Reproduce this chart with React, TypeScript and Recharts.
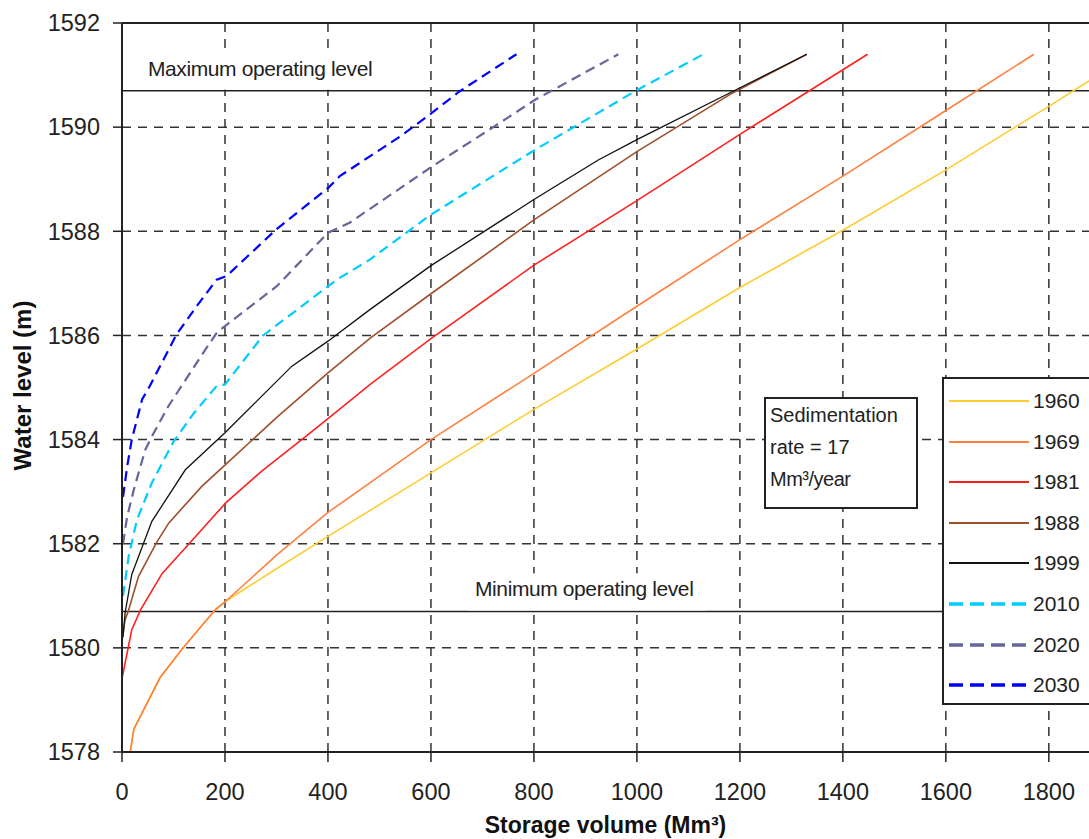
import React from 'react';
import {
    LineChart,
    Line,
    XAxis,
    YAxis,
    CartesianGrid,
    ReferenceLine
} from 'recharts';

// storage volume (Mm3) / water level (m) pairs
const curve1960: [number, number][] = [
    [16, 1578], [23, 1578.44], [74, 1579.43], [116, 1579.97], [181, 1580.73], [202, 1580.9],
    [300, 1581.52], [400, 1582.14], [600, 1583.36], [800, 1584.58], [1000, 1585.74],
    [1200, 1586.92], [1400, 1588.02], [1600, 1589.18], [1800, 1590.4], [1960, 1591.4]
];
const curve1969: [number, number][] = [
    [16, 1578], [23, 1578.44], [74, 1579.43], [116, 1579.97], [181, 1580.73], [202, 1580.9],
    [300, 1581.78], [400, 1582.6], [600, 1584.0], [800, 1585.27], [1000, 1586.56],
    [1200, 1587.84], [1400, 1589.06], [1600, 1590.32], [1771, 1591.4]
];
const curve1981: [number, number][] = [
    [1, 1579.46], [19, 1580.35], [36, 1580.73], [78, 1581.43], [132, 1582.02], [202, 1582.79],
    [272, 1583.4], [349, 1584.0], [400, 1584.4], [482, 1585.06], [600, 1585.94],
    [800, 1587.35], [1000, 1588.59], [1200, 1589.86], [1448, 1591.4]
];
const curve1988: [number, number][] = [
    [2, 1580.29], [6, 1580.54], [12, 1580.7], [32, 1581.37], [67, 1582.02], [91, 1582.4],
    [155, 1583.1], [202, 1583.53], [300, 1584.42], [400, 1585.28], [482, 1585.95],
    [600, 1586.8], [800, 1588.22], [1000, 1589.53], [1181, 1590.63], [1330, 1591.4]
];
const curve1999: [number, number][] = [
    [2, 1580.2], [6, 1580.67], [19, 1581.41], [58, 1582.43], [123, 1583.42], [200, 1584.13],
    [330, 1585.41], [400, 1585.89], [482, 1586.5], [600, 1587.34], [800, 1588.61],
    [925, 1589.37], [1000, 1589.76], [1181, 1590.66], [1330, 1591.4]
];
const curve2010: [number, number][] = [
    [2, 1581.0], [13, 1581.76], [29, 1582.46], [58, 1583.17], [100, 1583.96], [139, 1584.5],
    [184, 1585.03], [200, 1585.06], [274, 1586.0], [417, 1587.07], [482, 1587.46],
    [600, 1588.32], [803, 1589.57], [1000, 1590.71], [1129, 1591.4]
];
const curve2020: [number, number][] = [
    [2, 1582.0], [10, 1582.52], [23, 1583.04], [45, 1583.8], [58, 1584.06], [90, 1584.64],
    [158, 1585.67], [184, 1586.05], [200, 1586.18], [300, 1586.94], [400, 1587.97],
    [443, 1588.17], [600, 1589.23], [721, 1590.0], [803, 1590.53], [964, 1591.4]
];
const curve2030: [number, number][] = [
    [2, 1582.9], [10, 1583.48], [19, 1584.0], [39, 1584.77], [54, 1585.03], [106, 1586.02],
    [145, 1586.56], [184, 1587.07], [203, 1587.14], [300, 1588.04], [400, 1588.83],
    [423, 1589.06], [540, 1589.82], [600, 1590.26], [656, 1590.69], [766, 1591.4]
];

const xTicks = [0, 200, 400, 600, 800, 1000, 1200, 1400, 1600, 1800];
const yTicks = [1578, 1580, 1582, 1584, 1586, 1588, 1590, 1592];

const maxOperatingLevel = 1590.7;
const minOperatingLevel = 1580.7;

const FONT = '"Liberation Sans", Arial, sans-serif';

const series = [
    { name: '1960', points: curve1960, color: '#FFCC33', dashed: false },
    { name: '1969', points: curve1969, color: '#FF8040', dashed: false },
    { name: '1981', points: curve1981, color: '#FF2020', dashed: false },
    { name: '1988', points: curve1988, color: '#9E4F2C', dashed: false },
    { name: '1999', points: curve1999, color: '#111111', dashed: false },
    { name: '2010', points: curve2010, color: '#00CCFF', dashed: true },
    { name: '2020', points: curve2020, color: '#666699', dashed: true },
    { name: '2030', points: curve2030, color: '#0000FF', dashed: true }
];

const toRows = (pts: [number, number][]) => pts.map(([x, y]) => ({ x, y }));

// text label sitting on a white patch above a reference line
const levelLabel = (text: string, dx: number, boxWidth: number) => (props: any) => {
    const vb = props.viewBox || { x: 122, y: 0 };
    return (
        <g>
            <rect x={vb.x + dx - 7} y={vb.y - 38} width={boxWidth} height={37} fill="#fff" />
            <text x={vb.x + dx} y={vb.y - 15} fontSize={21} fontFamily={FONT} fill="#222" letterSpacing={-0.4}>
                {text}
            </text>
        </g>
    );
};

const App: React.FC = () => {
    return (
        <div style={{ position: 'absolute', left: 0, top: 0, width: 1089, height: 839, background: '#fff', fontFamily: FONT }}>
            <LineChart
                width={1089}
                height={839}
                margin={{ top: 23, right: 0, bottom: 0, left: 0 }}
            >
                <CartesianGrid
                    stroke="#333"
                    strokeWidth={1.5}
                    strokeDasharray="9 7"
                    vertical={false}
                />
                {/* vertical grid only on the labelled ticks */}
                {xTicks.filter(t => t > 0).map(t => (
                    <ReferenceLine key={`vg-${t}`} x={t} stroke="#333" strokeWidth={1.5} strokeDasharray="9 7" />
                ))}
                <XAxis
                    dataKey="x"
                    type="number"
                    domain={[0, 1878]}
                    ticks={xTicks}
                    allowDataOverflow
                    height={87}
                    tickSize={10}
                    tickMargin={21}
                    axisLine={{ stroke: '#222', strokeWidth: 2 }}
                    tickLine={{ stroke: '#222', strokeWidth: 1.5 }}
                    tick={{ fill: '#222', fontSize: 23.5, fontFamily: FONT }}
                    label={{
                        content: (props: any) => {
                            const vb = props.viewBox || { x: 122, y: 752, width: 967 };
                            return (
                                <text
                                    x={vb.x + vb.width / 2}
                                    y={vb.y + 81}
                                    textAnchor="middle"
                                    fontSize={23}
                                    fontWeight="bold"
                                    fontFamily={FONT}
                                    fill="#111"
                                >
                                    Storage volume (Mm³)
                                </text>
                            );
                        }
                    }}
                />
                <YAxis
                    type="number"
                    domain={[1578, 1592]}
                    ticks={yTicks}
                    allowDataOverflow
                    width={122}
                    tickSize={9}
                    tickMargin={13}
                    axisLine={{ stroke: '#222', strokeWidth: 2 }}
                    tickLine={{ stroke: '#222', strokeWidth: 1.5 }}
                    tick={{ fill: '#222', fontSize: 23.5, fontFamily: FONT }}
                    label={{
                        content: (props: any) => {
                            const vb = props.viewBox || { x: 0, y: 23, height: 729 };
                            const cy = vb.y + vb.height / 2 - 2;
                            return (
                                <text
                                    x={22}
                                    y={cy}
                                    transform={`rotate(-90, 22, ${cy})`}
                                    textAnchor="middle"
                                    dominantBaseline="central"
                                    fontSize={24}
                                    fontWeight="bold"
                                    fontFamily={FONT}
                                    fill="#111"
                                >
                                    Water level (m)
                                </text>
                            );
                        }
                    }}
                />
                <ReferenceLine y={1592} stroke="#222" strokeWidth={2} />
                <ReferenceLine
                    y={maxOperatingLevel}
                    stroke="#222"
                    strokeWidth={1.5}
                    label={{ content: levelLabel('Maximum operating level', 26, 246) }}
                />
                <ReferenceLine
                    y={minOperatingLevel}
                    stroke="#222"
                    strokeWidth={1.5}
                    label={{ content: levelLabel('Minimum operating level', 353, 238) }}
                />
                {series.map(s => (
                    <Line
                        key={s.name}
                        data={toRows(s.points)}
                        dataKey="y"
                        name={s.name}
                        type="linear"
                        stroke={s.color}
                        strokeWidth={s.dashed ? 2.2 : (s.name === '1999' ? 1.3 : 1.6)}
                        strokeDasharray={s.dashed ? '10 6' : undefined}
                        dot={false}
                        activeDot={false}
                        isAnimationActive={false}
                    />
                ))}
            </LineChart>

            {/* sedimentation note */}
            <div
                style={{
                    position: 'absolute',
                    left: 764,
                    top: 397,
                    width: 146,
                    height: 108,
                    border: '2px solid #222',
                    background: '#fff',
                    fontSize: 20,
                    lineHeight: '32px',
                    color: '#222',
                    paddingLeft: 4,
                    boxSizing: 'content-box'
                }}
            >
                <div>Sedimentation</div>
                <div>rate = 17</div>
                <div style={{ letterSpacing: -0.5 }}>Mm³/year</div>
            </div>

            {/* legend */}
            <div
                style={{
                    position: 'absolute',
                    left: 942,
                    top: 377,
                    width: 160,
                    height: 324,
                    borderLeft: '2px solid #222',
                    borderTop: '2px solid #222',
                    borderBottom: '2px solid #222',
                    background: '#fff'
                }}
            >
                {series.map((s, i) => (
                    <div
                        key={s.name}
                        style={{
                            position: 'absolute',
                            left: 5,
                            top: 22 + i * 40.6 - 13,
                            height: 26,
                            display: 'flex',
                            alignItems: 'center'
                        }}
                    >
                        <svg width={82} height={10}>
                            <line
                                x1={0}
                                y1={5}
                                x2={80}
                                y2={5}
                                stroke={s.color}
                                strokeWidth={s.dashed ? 3.5 : 2}
                                strokeDasharray={s.dashed ? '14 7' : undefined}
                            />
                        </svg>
                        <span style={{ fontSize: 21, color: '#222', marginLeft: 2 }}>{s.name}</span>
                    </div>
                ))}
            </div>
        </div>
    );
};

export default App;
